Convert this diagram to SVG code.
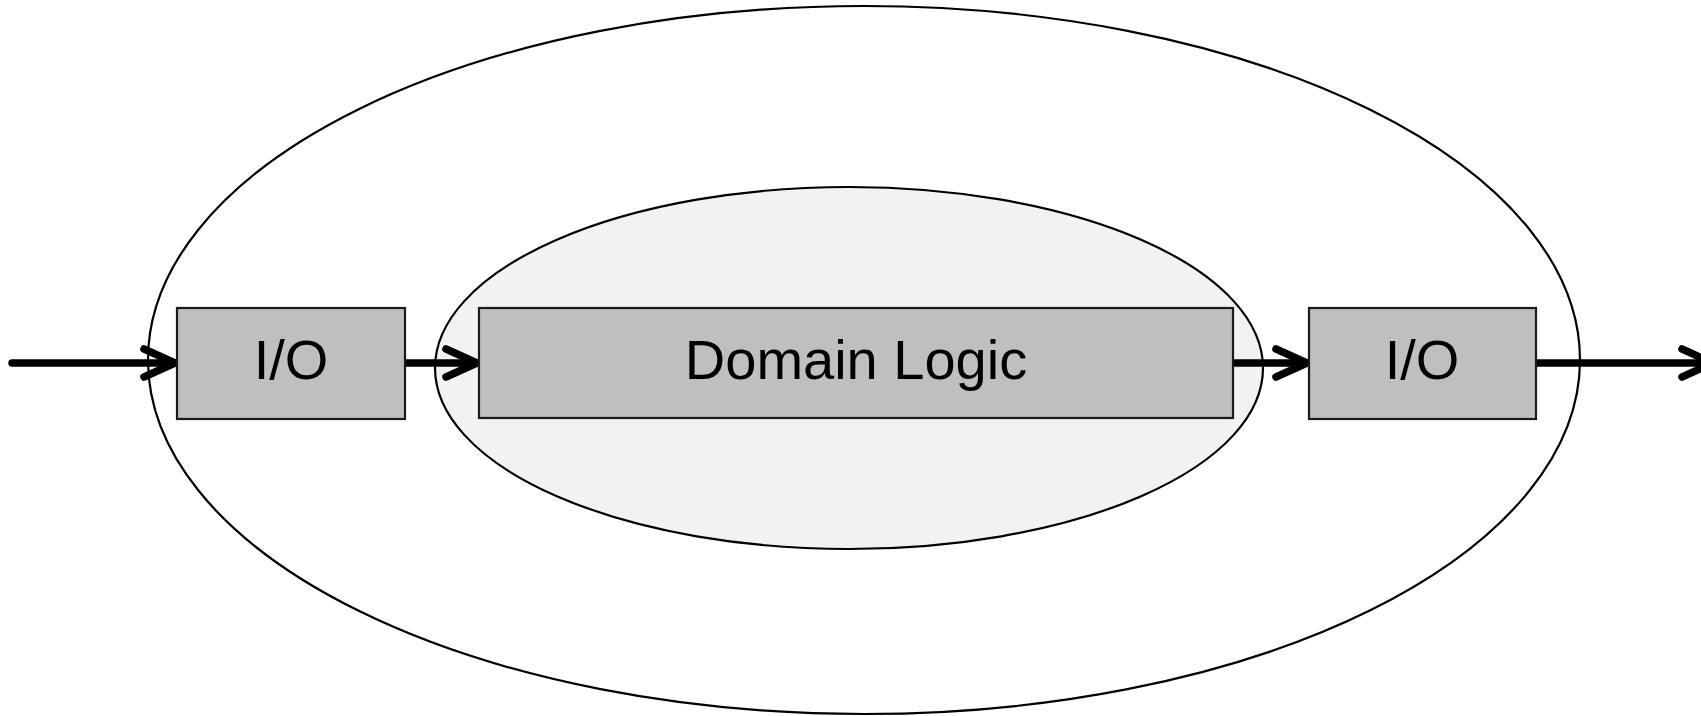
<svg xmlns="http://www.w3.org/2000/svg" width="1701" height="716" viewBox="0 0 1701 716">
  <style>
    .ring { stroke: #000; stroke-width: 2.2; }
    .box { fill: #bfbfbf; stroke: #1a1a1a; stroke-width: 2.2; }
    .label { font-family: "Liberation Sans", Arial, sans-serif; font-size: 56px; fill: #000; text-anchor: middle; }
    .flow { stroke: #000; stroke-width: 7.5; fill: none; stroke-linecap: round; stroke-linejoin: round; }
  </style>
  <defs>
    <marker id="chevron" markerUnits="userSpaceOnUse" viewBox="-36 -18 40 36" refX="0" refY="0" markerWidth="40" markerHeight="36" orient="auto" overflow="visible">
      <path d="M -31 -14 L 0 0 L -31 14" fill="none" stroke="#000" stroke-width="7.5" stroke-linecap="round" stroke-linejoin="round"/>
    </marker>
  </defs>
  <rect width="1701" height="716" fill="#fff"/>

  <g id="outer-shell">
    <ellipse class="ring" cx="864" cy="360" rx="716" ry="354" fill="#fff"/>
  </g>
  <g id="core">
    <ellipse class="ring" cx="849" cy="368" rx="414" ry="181" fill="#f2f2f2"/>
  </g>

  <g id="connectors">
    <line class="flow" x1="12" y1="363" x2="175" y2="363" marker-end="url(#chevron)"/>
    <line class="flow" x1="405" y1="363" x2="477" y2="363" marker-end="url(#chevron)"/>
    <line class="flow" x1="1233" y1="363" x2="1307" y2="363" marker-end="url(#chevron)"/>
    <line class="flow" x1="1536" y1="363" x2="1713" y2="363" marker-end="url(#chevron)"/>
  </g>

  <g id="io-in">
    <rect class="box" x="177" y="308" width="228" height="111"/>
    <text class="label" x="291" y="379">I/O</text>
  </g>
  <g id="domain-logic">
    <rect class="box" x="479" y="308" width="754" height="110"/>
    <text class="label" x="856" y="379">Domain Logic</text>
  </g>
  <g id="io-out">
    <rect class="box" x="1309" y="308" width="227" height="111"/>
    <text class="label" x="1422" y="379">I/O</text>
  </g>
</svg>
